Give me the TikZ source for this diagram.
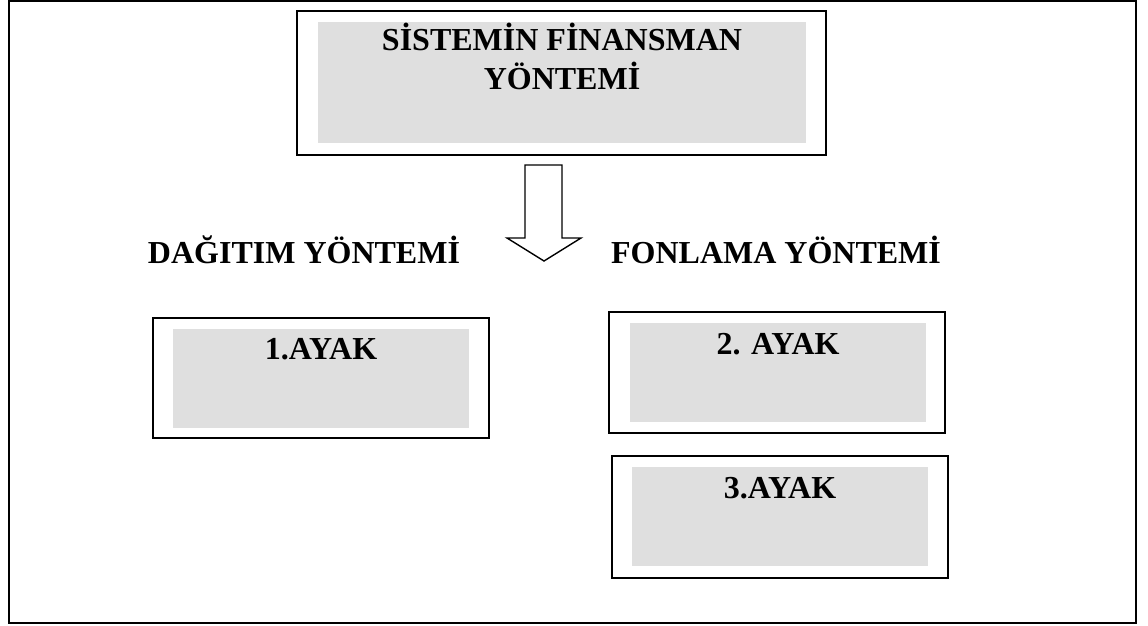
\documentclass[tikz,border=0pt]{standalone}
\usepackage{fontspec}
\setmainfont{Liberation Serif}
\begin{document}
\begin{tikzpicture}[x=1pt,y=-1pt,
  frame/.style={draw=black,line width=1.6pt},
  boxline/.style={draw=black,line width=2pt},
  graybox/.style={fill=boxgray,draw=none},
  title/.style={font=\fontsize{32}{39}\selectfont\bfseries,inner sep=0pt,anchor=base,align=center},
  arrowshape/.style={draw=black,line width=1.4pt,fill=white,line join=miter}
]
\definecolor{boxgray}{HTML}{DFDFDF}
\useasboundingbox (0,0) rectangle (1148,625);
% outer frame
\draw[frame] (9,1) rectangle (1136,623);
% top box
\draw[boxline] (297,11) rectangle (826,155);
\fill[graybox] (318,22) rectangle (806,143);
\node[title] (top) at (562,89) {SİSTEMİN FİNANSMAN\\YÖNTEMİ};
% arrow
\draw[arrowshape] (525,165) -- (562,165) -- (562,238) -- (581,238) -- (544,261) -- (507,238) -- (525,238) -- cycle;
% headings
\node[title] (dag) at (304,263) {DAĞITIM YÖNTEMİ};
\node[title] (fon) at (776,263) {FONLAMA YÖNTEMİ};
% box 1
\draw[boxline] (153,318) rectangle (489,438);
\fill[graybox] (173,329) rectangle (469,428);
\node[title] (a1) at (321,359) {1.AYAK};
% box 2
\draw[boxline] (609,312) rectangle (945,433);
\fill[graybox] (630,323) rectangle (926,422);
\node[title] (a2) at (778,354) {2. AYAK};
% box 3
\draw[boxline] (612,456) rectangle (948,578);
\fill[graybox] (632,467) rectangle (928,566);
\node[title] (a3) at (780,498) {3.AYAK};
\end{tikzpicture}
\end{document}
